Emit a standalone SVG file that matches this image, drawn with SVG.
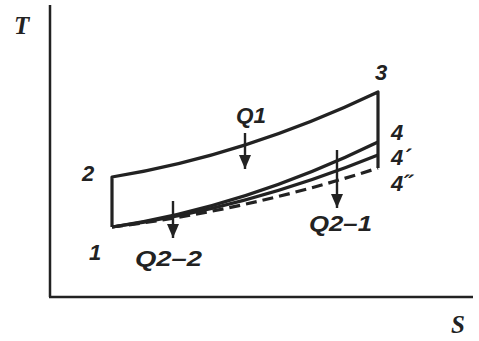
<svg xmlns="http://www.w3.org/2000/svg" width="479" height="341" viewBox="0 0 479 341">
<style>
.ax{stroke:#222;stroke-width:2.5;fill:none}
.pl{stroke:#222;stroke-width:3.2;fill:none;stroke-linejoin:round}
.ds{stroke-dasharray:11,6}
.lb{font-family:"Liberation Sans",Arial,sans-serif;font-weight:bold;font-style:italic;font-size:22px;fill:#222}
.ax-lb{font-family:"Liberation Serif","Times New Roman",serif;font-weight:bold;font-style:italic;font-size:25px;fill:#222}
.ar{stroke:#222;stroke-width:2.4;fill:none}
</style>
<defs>
<marker id="ah" viewBox="0 0 14 12" refX="14" refY="6" markerWidth="14" markerHeight="12" markerUnits="userSpaceOnUse" orient="auto">
<path d="M0,0 L14,6 L0,12 Z" fill="#222"/>
</marker>
</defs>
<rect width="479" height="341" fill="#fff"/>
<g id="axes">
<line class="ax" x1="50" y1="5" x2="50" y2="297"/>
<line class="ax" x1="49" y1="297" x2="473" y2="297"/>
<text class="ax-lb" x="14" y="34">T</text>
<text class="ax-lb" x="451" y="333">S</text>
</g>
<g id="connectors">
<path class="pl" d="M112,227 L112,177 Q245,155.5 378,92 L378,168"/>
<path class="pl" d="M112,227 Q245,207 378,142"/>
<path class="pl" d="M112,227 Q245,209 378,155"/>
<path class="pl ds" d="M112,227 Q245,211 378,168"/>
<line class="ar" x1="245" y1="133" x2="245" y2="169" marker-end="url(#ah)"/>
<line class="ar" x1="337" y1="150" x2="337" y2="208" marker-end="url(#ah)"/>
<line class="ar" x1="173" y1="201" x2="173" y2="238" marker-end="url(#ah)"/>
</g>
<g id="p1"><text class="lb" x="89" y="260">1</text></g>
<g id="p2"><text class="lb" x="82" y="181">2</text></g>
<g id="p3"><text class="lb" x="375" y="80">3</text></g>
<g id="p4"><text class="lb" x="391" y="140">4</text></g>
<g id="p4a"><text class="lb" x="391" y="165">4´</text></g>
<g id="p4b"><text class="lb" x="391" y="191">4˝</text></g>
<g id="q1"><text class="lb" x="236" y="123" textLength="30" lengthAdjust="spacingAndGlyphs">Q1</text></g>
<g id="q21"><text class="lb" x="309" y="231" textLength="63" lengthAdjust="spacingAndGlyphs">Q2–1</text></g>
<g id="q22"><text class="lb" x="135" y="266" textLength="67" lengthAdjust="spacingAndGlyphs">Q2–2</text></g>
</svg>
